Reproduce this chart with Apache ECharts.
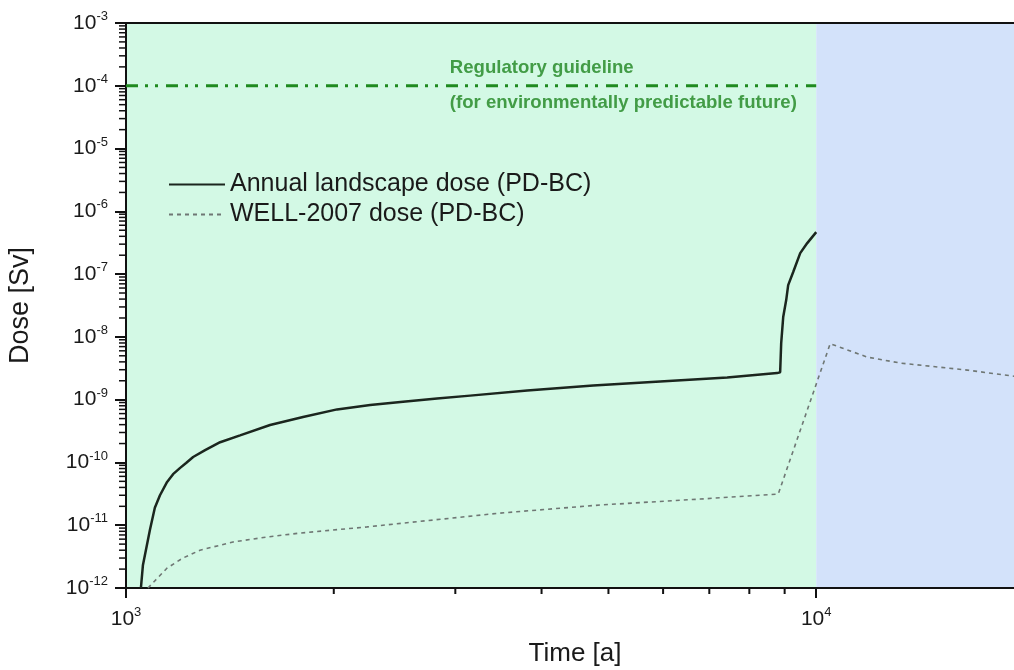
<!DOCTYPE html>
<html>
<head>
<meta charset="utf-8">
<script src="https://cdn.jsdelivr.net/npm/echarts@6/dist/echarts.min.js"></script>
<style>
  html, body { margin: 0; padding: 0; background: #ffffff; }
  #chart { width: 1014px; height: 670px; }
</style>
</head>
<body>
<div id="chart"></div>
<script>
// Annual landscape dose (PD-BC): time [a] and dose [Sv]
const annualTime = [1051, 1058, 1083, 1101, 1120, 1147, 1170, 1198, 1222, 1251, 1302, 1369, 1463, 1617, 1805, 2022, 2258, 2520, 2823, 3152, 3813, 4752, 5940, 7430, 8778, 8866, 8897, 8957, 9047, 9107, 9261, 9480, 9705, 10000];
const annualDose = [1.0e-12, 2.3e-12, 8.4e-12, 1.9e-11, 3.0e-11, 4.9e-11, 6.5e-11, 8.2e-11, 9.8e-11, 1.22e-10, 1.57e-10, 2.1e-10, 2.7e-10, 3.95e-10, 5.3e-10, 7.0e-10, 8.2e-10, 9.3e-10, 1.04e-9, 1.16e-9, 1.40e-9, 1.68e-9, 1.94e-9, 2.25e-9, 2.65e-9, 2.73e-9, 7.96e-9, 2.07e-8, 3.86e-8, 6.68e-8, 1.08e-7, 2.16e-7, 3.12e-7, 4.67e-7];

// WELL-2007 dose (PD-BC)
const wellTime = [1076, 1147, 1209, 1280, 1429, 1601, 1787, 2235, 2786, 3483, 4864, 6792, 8810, 10478, 11850, 13240, 16550, 20000];
const wellDose = [1.0e-12, 2.08e-12, 3.0e-12, 4.0e-12, 5.4e-12, 6.5e-12, 7.5e-12, 9.4e-12, 1.21e-11, 1.56e-11, 2.1e-11, 2.61e-11, 3.14e-11, 7.8e-9, 4.77e-9, 3.83e-9, 2.96e-9, 2.25e-9];

// Regulatory guideline level
const guidelineTime = [1000, 10000];
const guidelineDose = [1e-4, 1e-4];

// Axis ranges and shaded periods
const timeRange = [1000, 20000];
const doseRange = [1e-12, 1e-3];
const predictablePeriod = [1000, 10000];
const laterPeriod = [10000, 20000];

// Decade exponents carrying labels
const timeExponents = [3, 4];
const doseExponents = [-12, -11, -10, -9, -8, -7, -6, -5, -4, -3];

const seriesAnnual = 'Annual landscape dose (PD-BC)';
const seriesWell = 'WELL-2007 dose (PD-BC)';

const FONT = 'Liberation Sans, Arial, Helvetica, sans-serif';

const zip = (xs, ys) => xs.map((x, i) => [x, ys[i]]);

// Minor tick values (2..9 times each decade)
function minorTicks(expFrom, expTo) {
  const out = [];
  for (let e = expFrom; e < expTo; e++) {
    for (let m = 2; m <= 9; m++) out.push(m * Math.pow(10, e));
  }
  return out;
}
const timeMinor = minorTicks(3, 4);
const doseMinor = minorTicks(-12, -3);

function powerLabel(value) {
  const lg = Math.log10(value);
  const e = Math.round(lg);
  if (Math.abs(lg - e) > 1e-6) return '';
  return '{b|10}{e|' + e + '}';
}

const labelRich = {
  b: { fontSize: 21, fontFamily: FONT, color: '#1a1a1a', lineHeight: 26 },
  e: { fontSize: 13, fontFamily: FONT, color: '#1a1a1a', verticalAlign: 'top', lineHeight: 14 }
};

const chart = echarts.init(document.getElementById('chart'), null, { renderer: 'canvas' });

chart.setOption({
  animation: false,
  backgroundColor: '#ffffff',
  grid: { left: 126, top: 23, width: 898, height: 565, containLabel: false, outerBoundsMode: 'none' },
  legend: {
    data: [seriesAnnual, seriesWell],
    orient: 'vertical',
    left: 163,
    top: 167,
    itemWidth: 56,
    itemHeight: 14,
    itemGap: 5,
    itemStyle: { color: 'rgba(0,0,0,0)', borderWidth: 0, opacity: 0 },
    textStyle: { fontSize: 25, fontFamily: FONT, color: '#1a1a1a' }
  },
  xAxis: [{
    type: 'log',
    logBase: 10,
    min: timeRange[0],
    max: timeRange[1],
    interval: 1,
    name: 'Time [a]',
    nameLocation: 'middle',
    nameGap: 53,
    nameTextStyle: { fontSize: 26, fontFamily: FONT, color: '#1a1a1a' },
    axisLine: { lineStyle: { color: '#111', width: 2 } },
    axisTick: { length: 10, lineStyle: { color: '#111', width: 2 } },
    axisLabel: { margin: 18, formatter: powerLabel, rich: labelRich, showMaxLabel: false },
    splitLine: { show: false }
  }, {
    type: 'log',
    logBase: 10,
    position: 'top',
    min: timeRange[0],
    max: timeRange[1],
    axisLine: { lineStyle: { color: '#111', width: 2 } },
    axisTick: { show: false },
    axisLabel: { show: false },
    splitLine: { show: false }
  }],
  yAxis: {
    type: 'log',
    logBase: 10,
    min: doseRange[0],
    max: doseRange[1],
    interval: 1,
    name: 'Dose [Sv]',
    nameLocation: 'middle',
    nameGap: 92,
    nameTextStyle: { fontSize: 27, fontFamily: FONT, color: '#1a1a1a' },
    axisLine: { lineStyle: { color: '#111', width: 2 } },
    axisTick: { length: 11, lineStyle: { color: '#111', width: 2 } },
    axisLabel: { margin: 18, formatter: powerLabel, rich: labelRich },
    splitLine: { show: false }
  },
  series: [
    {
      name: 'guideline',
      type: 'line',
      data: zip(guidelineTime, guidelineDose),
      symbol: 'none',
      z: 3,
      lineStyle: { color: '#1f8a1f', width: 3, type: [12, 7, 3, 7, 3, 8] },
      markArea: {
        silent: true,
        z: 0,
        data: [
          [{ coord: [predictablePeriod[0], doseRange[0]], itemStyle: { color: '#d3f9e5' } },
           { coord: [predictablePeriod[1], doseRange[1]] }],
          [{ coord: [laterPeriod[0], doseRange[0]], itemStyle: { color: '#d3e2fa' } },
           { coord: [laterPeriod[1], doseRange[1]] }]
        ]
      }
    },
    {
      name: 'guideline text',
      type: 'scatter',
      data: [[2940, guidelineDose[0]]],
      symbolSize: 1,
      itemStyle: { color: 'rgba(0,0,0,0)' },
      silent: true,
      z: 4,
      label: {
        show: true,
        position: 'right',
        distance: 0,
        formatter: 'Regulatory guideline\n(for environmentally predictable future)',
        fontSize: 18.6,
        fontWeight: 'bold',
        fontFamily: FONT,
        color: '#1e841e',
        lineHeight: 35,
        align: 'left'
      }
    },
    {
      name: seriesAnnual,
      type: 'line',
      data: zip(annualTime, annualDose),
      symbol: 'none',
      z: 5,
      lineStyle: { color: '#1b261e', width: 2.5 },
      itemStyle: { color: '#1b261e' }
    },
    {
      name: seriesWell,
      type: 'line',
      data: zip(wellTime, wellDose),
      symbol: 'none',
      z: 5,
      lineStyle: { color: '#6f7774', width: 1.6, type: [4, 4] },
      itemStyle: { color: '#6f7774' }
    },
    {
      name: 'time minor ticks',
      type: 'custom',
      clip: false,
      silent: true,
      z: 6,
      data: timeMinor.map(v => [v, doseRange[0]]),
      renderItem: (params, api) => {
        const p = api.coord([api.value(0), api.value(1)]);
        return {
          type: 'line',
          shape: { x1: p[0], y1: p[1], x2: p[0], y2: p[1] + 6 },
          style: { stroke: '#111', lineWidth: 2 }
        };
      }
    },
    {
      name: 'dose minor ticks',
      type: 'custom',
      clip: false,
      silent: true,
      z: 6,
      data: doseMinor.map(v => [timeRange[0], v]),
      renderItem: (params, api) => {
        const p = api.coord([api.value(0), api.value(1)]);
        return {
          type: 'line',
          shape: { x1: p[0] - 7, y1: p[1], x2: p[0], y2: p[1] },
          style: { stroke: '#111', lineWidth: 1.5 }
        };
      }
    }
  ]
});
</script>
</body>
</html>
